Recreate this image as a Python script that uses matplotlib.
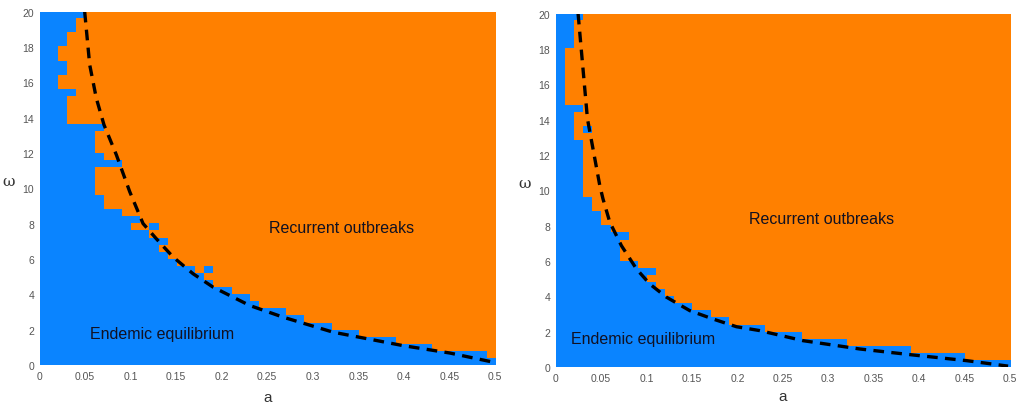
import numpy as np
import matplotlib.pyplot as plt
from matplotlib.colors import ListedColormap

plt.rcParams['font.family'] = ['Liberation Sans', 'DejaVu Sans']

# grid: a from 0 to 0.5 (50 columns), omega from 20 down to 0 (50 rows)
n_cols = 50
n_rows = 50

# number of "endemic" (blue) cells from a=0 in each row, top row first
left_blue = [5, 4, 4, 3, 3, 2, 2, 3, 3, 2,
             2, 4, 3, 3, 3, 3, 7, 6, 6, 6,
             7, 9, 6, 6, 6, 6, 7, 7, 9, 11,
             10, 12, 14, 13, 14, 15, 17, 18, 19, 21,
             23, 24, 27, 29, 32, 35, 39, 43, 49, 50]
left_islands = [(30, 12), (36, 18)]  # (row, column) extra blue cells

right_blue = [3, 2, 2, 2, 2, 1, 1, 1, 1, 1,
              1, 1, 1, 3, 2, 2, 2, 2, 3, 3,
              3, 3, 3, 3, 3, 3, 4, 4, 5, 5,
              6, 8, 7, 7, 7, 9, 11, 10, 11, 12,
              13, 15, 17, 19, 23, 27, 32, 39, 45, 50]
right_islands = [(16, 3)]

# dashed boundary curves
left_curve_a = [0.0495, 0.055, 0.0623, 0.0707, 0.0843, 0.099, 0.1136, 0.128,
                0.1465, 0.1685, 0.1905, 0.2308, 0.2674, 0.3223, 0.399, 0.4505,
                0.4993]
left_curve_w = [20.0, 17.0, 15.1, 13.6, 11.9, 9.81, 8.01, 7.16,
                6.12, 5.17, 4.41, 3.37, 2.71, 1.86, 1.10, 0.68,
                0.15]

right_curve_a = [0.0246, 0.0349, 0.0485, 0.052, 0.0595, 0.0723, 0.0889, 0.1035,
                 0.122, 0.1476, 0.173, 0.199, 0.2247, 0.2724, 0.3348, 0.3935,
                 0.4523, 0.498]
right_curve_w = [20.0, 14.05, 10.27, 9.52, 8.2, 6.87, 5.55, 4.70,
                 3.95, 3.19, 2.72, 2.28, 2.06, 1.49, 1.02, 0.68,
                 0.36, 0.05]

x_ticks = [0, 0.05, 0.1, 0.15, 0.2, 0.25, 0.3, 0.35, 0.4, 0.45, 0.5]
x_tick_labels = ['0', '0.05', '0.1', '0.15', '0.2', '0.25', '0.3', '0.35', '0.4', '0.45', '0.5']
y_ticks = [0, 2, 4, 6, 8, 10, 12, 14, 16, 18, 20]

blue = '#0a84ff'
orange = '#ff8000'
cmap = ListedColormap([orange, blue])


def make_grid(blue_counts, islands):
    grid = np.zeros((n_rows, n_cols))
    for i, n in enumerate(blue_counts):
        grid[i, :n] = 1
    for r, c in islands:
        grid[r, c] = 1
    return grid


fig = plt.figure(figsize=(10.16, 4.06), dpi=100)
ax1 = fig.add_axes([0.039, 0.0985, 0.448, 0.870])
ax2 = fig.add_axes([0.547, 0.0936, 0.447, 0.870])

panels = [
    (ax1, left_blue, left_islands, left_curve_a, left_curve_w,
     (0.332, 7.78), (0.135, 1.76), 7),
    (ax2, right_blue, right_islands, right_curve_a, right_curve_w,
     (0.293, 8.39), (0.096, 1.59), 5),
]

for ax, counts, islands, ca, cw, rec_pos, end_pos, xpad in panels:
    grid = make_grid(counts, islands)
    ax.imshow(grid, cmap=cmap, vmin=0, vmax=1, extent=[0, 0.5, 0, 20],
              origin='upper', aspect='auto', interpolation='nearest')
    ax.plot(ca, cw, color='black', linewidth=2.4, linestyle=(0, (3.2, 2.2)))
    ax.set_xlim(0, 0.5)
    ax.set_ylim(0, 20)
    ax.set_xticks(x_ticks)
    ax.set_xticklabels(x_tick_labels)
    ax.set_yticks(y_ticks)
    ax.tick_params(length=0, labelsize=7.5, labelcolor='#555555', pad=4)
    for s in ax.spines.values():
        s.set_visible(False)
    ax.set_xlabel('a', fontsize=11, color='#333333', labelpad=xpad)
    ax.set_ylabel('ω', fontsize=11, color='#333333', rotation=0,
                  labelpad=10, family=['DejaVu Serif'])
    ax.text(rec_pos[0], rec_pos[1], 'Recurrent outbreaks', fontsize=11.5,
            color='#111122', ha='center', va='center')
    ax.text(end_pos[0], end_pos[1], 'Endemic equilibrium', fontsize=11.5,
            color='#111122', ha='center', va='center')

plt.savefig('out.png', dpi=100)
